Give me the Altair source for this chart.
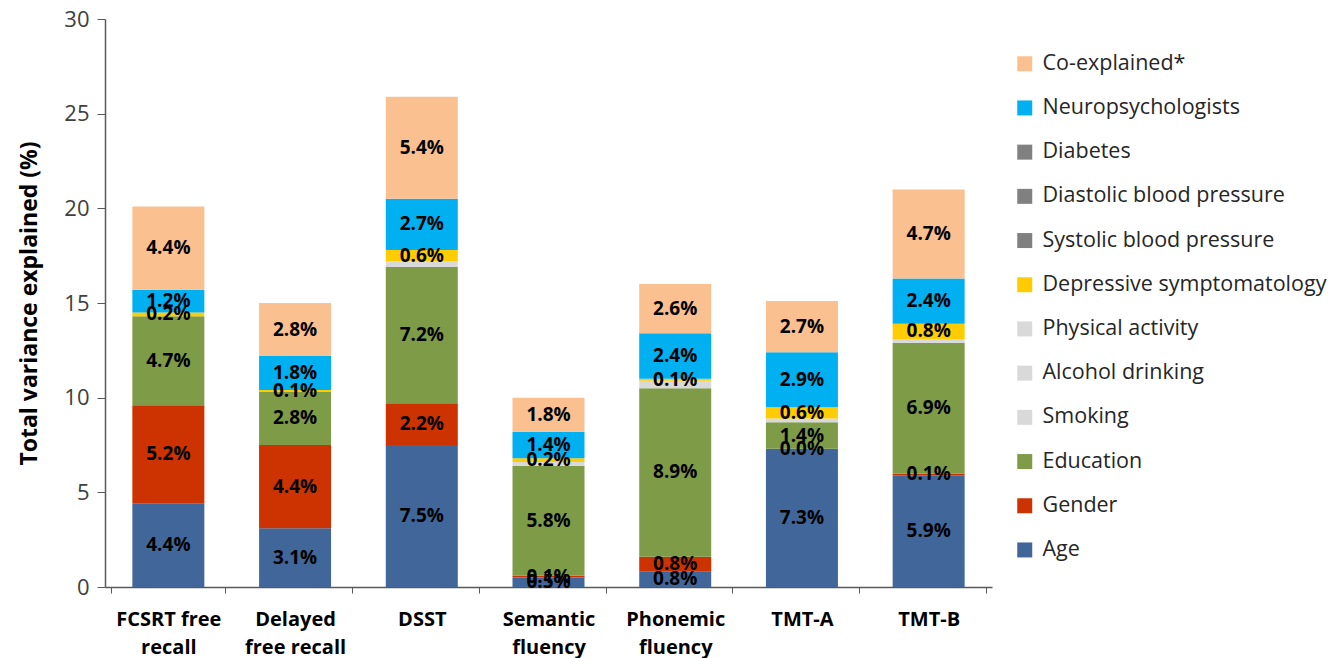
import altair as alt
import pandas as pd

tests = ["FCSRT free recall", "Delayed free recall", "DSST", "Semantic fluency",
         "Phonemic fluency", "TMT-A", "TMT-B"]
line1 = ["FCSRT free", "Delayed", "DSST", "Semantic", "Phonemic", "TMT-A", "TMT-B"]
line2 = ["recall", "free recall", "", "fluency", "fluency", "", ""]

# stacking order (bottom to top)
series = ["Age", "Gender", "Education", "Smoking", "Alcohol drinking", "Physical activity",
          "Depressive symptomatology", "Systolic blood pressure", "Diastolic blood pressure",
          "Diabetes", "Neuropsychologists", "Co-explained*"]
colors = ["#41679A", "#CC3300", "#7E9B47", "#D9D9D9", "#D9D9D9", "#D9D9D9",
          "#FFCC00", "#808080", "#808080", "#808080", "#00B0F0", "#FAC090"]
labelled = [True, True, True, False, False, False, True, False, False, False, True, True]

age = [4.4, 3.1, 7.5, 0.5, 0.8, 7.3, 5.9]
gender = [5.2, 4.4, 2.2, 0.1, 0.8, 0.0, 0.1]
education = [4.7, 2.8, 7.2, 5.8, 8.9, 1.4, 6.9]
smoking = [0.0, 0.0, 0.0, 0.0, 0.0, 0.0, 0.0]
alcohol = [0.0, 0.0, 0.0, 0.0, 0.0, 0.0, 0.0]
physical = [0.0, 0.0, 0.3, 0.2, 0.4, 0.2, 0.2]
depressive = [0.2, 0.1, 0.6, 0.2, 0.1, 0.6, 0.8]
systolic = [0.0, 0.0, 0.0, 0.0, 0.0, 0.0, 0.0]
diastolic = [0.0, 0.0, 0.0, 0.0, 0.0, 0.0, 0.0]
diabetes = [0.0, 0.0, 0.0, 0.0, 0.0, 0.0, 0.0]
neuro = [1.2, 1.8, 2.7, 1.4, 2.4, 2.9, 2.4]
coexpl = [4.4, 2.8, 5.4, 1.8, 2.6, 2.7, 4.7]

values = [age, gender, education, smoking, alcohol, physical, depressive,
          systolic, diastolic, diabetes, neuro, coexpl]

rows = []
for si, (s, vals) in enumerate(zip(series, values)):
    for t, v in zip(tests, vals):
        rows.append({"test": t, "series": s, "value": v, "order": si,
                     "labelled": labelled[si]})
df = pd.DataFrame(rows)

legend_domain = list(reversed(series))
legend_range = list(reversed(colors))

label_map = "{" + ", ".join(
    "'%s': [%s]" % (t, ", ".join("'%s'" % p for p in (a, b) if p))
    for t, a, b in zip(tests, line1, line2)) + "}"

FONT = "Open Sans"
AXIS_COLOR = "#595959"

bars = alt.Chart(df).mark_bar(size=72).encode(
    x=alt.X("test:N", sort=tests, title=None,
            axis=alt.Axis(labelExpr=label_map + "[datum.value]", labelAngle=0,
                          labelFont=FONT, labelFontSize=20, labelFontWeight="bold",
                          labelColor="#000000", labelLineHeight=28, labelPadding=16,
                          tickBand="extent", tickSize=6, tickColor=AXIS_COLOR,
                          domainColor=AXIS_COLOR, domainWidth=1.5)),
    y=alt.Y("value:Q", stack="zero", title="Total variance explained (%)",
            scale=alt.Scale(domain=[0, 30], nice=False),
            axis=alt.Axis(values=[0, 5, 10, 15, 20, 25, 30], grid=False,
                          labelFont=FONT, labelFontSize=22, labelColor="#404040",
                          labelPadding=8, tickSize=8, tickColor=AXIS_COLOR,
                          domainColor=AXIS_COLOR, domainWidth=1.5,
                          titleFont=FONT, titleFontSize=23, titleFontWeight="bold",
                          titleColor="#000000", titlePadding=22)),
    color=alt.Color("series:N",
                    scale=alt.Scale(domain=legend_domain, range=legend_range),
                    legend=alt.Legend(title=None, orient="none", legendX=909, legendY=34,
                                      symbolType="square", symbolSize=225,
                                      symbolStrokeWidth=0, labelFont=FONT,
                                      labelFontSize=21.5, labelColor="#262626",
                                      rowPadding=21.2, labelOffset=7, padding=0,
                                      labelLimit=400)),
    order=alt.Order("order:Q", sort="ascending"),
)

texts = alt.Chart(df).transform_stack(
    stack="value", groupby=["test"], as_=["y0", "y1"],
    sort=[alt.SortField("order", order="ascending")]
).transform_filter(
    "datum.labelled"
).transform_calculate(
    mid="(datum.y0 + datum.y1) / 2",
    lbl="format(datum.value, '.1f') + '%'"
).mark_text(font=FONT, fontSize=19, fontWeight="bold", color="#000000",
            baseline="middle").encode(
    x=alt.X("test:N", sort=tests),
    y=alt.Y("mid:Q"),
    text="lbl:N",
)

chart = alt.layer(bars, texts).properties(
    width=887, height=568,
    padding={"left": 10, "top": 0, "right": 5, "bottom": 5},
    background="white",
).configure_view(stroke=None)

chart.save("out.html", embed_options={"renderer": "svg", "actions": False})
